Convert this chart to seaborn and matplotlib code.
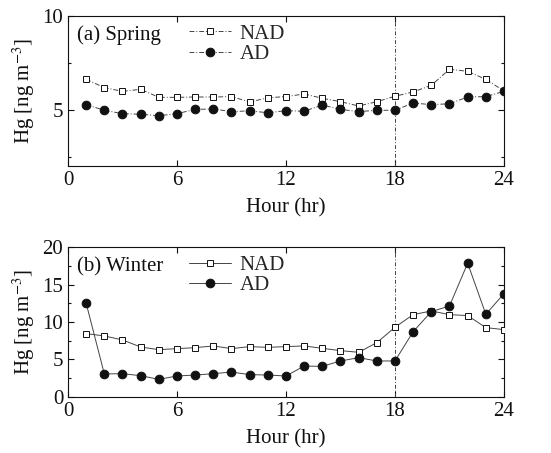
import numpy as np
import pandas as pd
import matplotlib
matplotlib.use("Agg")
import matplotlib.pyplot as plt
from matplotlib.ticker import MultipleLocator
import seaborn as sns

sns.set_theme(style="ticks")
plt.rcParams["font.family"] = ["Liberation Serif", "DejaVu Serif"]
plt.rcParams["mathtext.fontset"] = "stix"

hours = list(range(1, 25))

spring_nad = [6.62, 6.18, 5.98, 6.09, 5.66, 5.66, 5.68, 5.68, 5.70, 5.41, 5.64, 5.70,
              5.84, 5.61, 5.43, 5.20, 5.43, 5.72, 5.95, 6.30, 7.16, 7.05, 6.62, 6.00]
spring_ad = [5.27, 4.97, 4.79, 4.76, 4.68, 4.79, 5.02, 5.04, 4.90, 4.94, 4.84, 4.95,
             4.92, 5.25, 5.02, 4.90, 4.97, 4.97, 5.36, 5.27, 5.32, 5.68, 5.70, 5.98]

winter_nad = [8.44, 8.13, 7.59, 6.65, 6.29, 6.43, 6.56, 6.79, 6.43, 6.70, 6.60, 6.70,
              6.79, 6.47, 6.16, 5.94, 7.23, 9.29, 10.98, 11.47, 10.98, 10.85, 9.24, 8.97]
winter_ad = [12.50, 3.04, 3.08, 2.81, 2.32, 2.77, 2.90, 3.08, 3.30, 2.95, 2.90, 2.77,
             4.10, 4.06, 4.78, 5.22, 4.78, 4.78, 8.70, 11.38, 12.14, 17.86, 11.03, 13.79]

panels = [
    ("(a) Spring", spring_nad, spring_ad, (2, 10), [5, 10], (0, (5, 2, 1, 2))),
    ("(b) Winter", winter_nad, winter_ad, (0, 20), [0, 5, 10, 15, 20], "-"),
]
x_ticks = [0, 6, 12, 18, 24]

fig = plt.figure(figsize=(5.51, 4.53), dpi=100)
axes = [fig.add_axes([0.1234, 0.6336, 0.7913, 0.3311]),
        fig.add_axes([0.1234, 0.1243, 0.7913, 0.3300])]

ink = "#111111"
line_ink = "#444444"
for ax, (title, nad, ad, ylim, yticks, ls) in zip(axes, panels):
    df = pd.DataFrame({"Hour": hours, "NAD": nad, "AD": ad})
    ax.axvline(18, color=line_ink, lw=0.7, ls=(0, (4, 2, 1, 2)), zorder=1)
    sns.lineplot(data=df, x="Hour", y="NAD", ax=ax, color=line_ink, lw=0.7,
                 linestyle=ls, marker="s", markersize=5, markerfacecolor="white",
                 markeredgecolor=ink, markeredgewidth=0.7, label="NAD", zorder=3)
    sns.lineplot(data=df, x="Hour", y="AD", ax=ax, color=line_ink, lw=0.7,
                 linestyle=ls, marker="o", markersize=6.2, markerfacecolor=ink,
                 markeredgecolor=ink, label="AD", zorder=4)
    ax.set_xlim(0, 24)
    ax.set_ylim(*ylim)
    ax.set_xticks(x_ticks)
    ax.set_yticks(yticks)
    ax.yaxis.set_minor_locator(MultipleLocator(2.5))
    ax.tick_params(axis="both", which="both", direction="in", top=True, right=True,
                   labelsize=15, color=ink, labelcolor=ink, width=0.8)
    ax.tick_params(which="major", length=4)
    ax.tick_params(which="minor", length=2.5)
    for s in ax.spines.values():
        s.set_linewidth(0.8)
        s.set_color(ink)
    ax.set_xlabel("Hour (hr)", fontsize=15, color=ink, labelpad=6)
    ax.set_ylabel("Hg [ng m$^{-3}$]", fontsize=15, color=ink, labelpad=4)
    ax.text(0.02, 0.87, title, transform=ax.transAxes, fontsize=15, color=ink,
            va="center", ha="left")
    ax.legend(loc="upper left", bbox_to_anchor=(0.25, 1.03), frameon=False,
              fontsize=15, handlelength=2.0, handletextpad=0.4, labelspacing=0.05,
              borderaxespad=0.2)
    ax.grid(False)

fig.savefig("out.png", dpi=100)
